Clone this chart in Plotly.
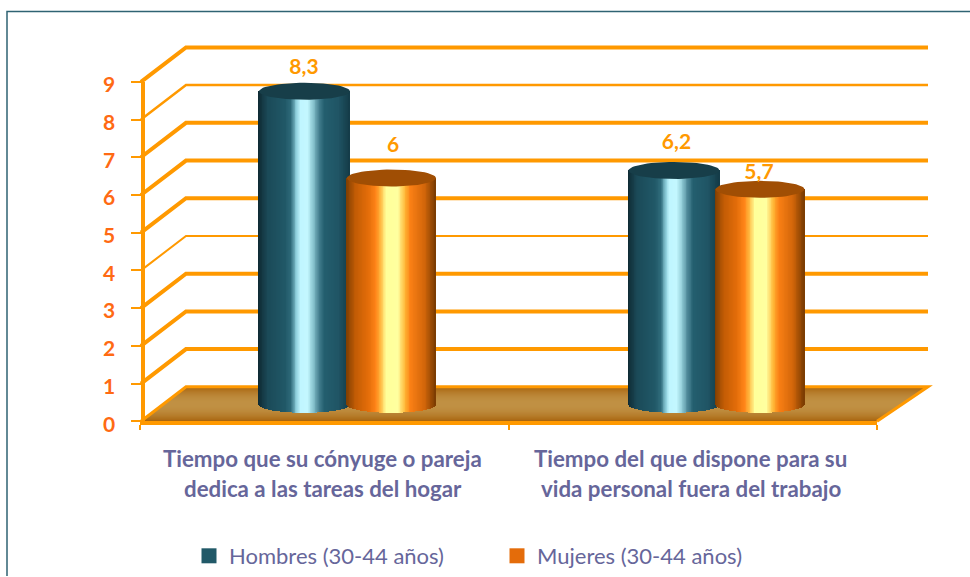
import numpy as np
import plotly.graph_objects as go

# ---- data ----
categories_l1 = ["Tiempo que su cónyuge o pareja", "Tiempo del que dispone para su"]
categories_l2 = ["dedica a las tareas del hogar", "vida personal fuera del trabajo"]
hombres = [8.3, 6.2]
mujeres = [6, 5.7]
y_ticks = [0, 1, 2, 3, 4, 5, 6, 7, 8, 9]
series_names = ["Hombres (30-44 años)", "Mujeres (30-44 años)"]

# ---- page geometry ----
W, H = 970, 577
XC0, XU = 324.5, 368.0     # px of category 0, px per category
Y0, YU = 422.0, 37.78      # px of value 0, px per value unit
ORANGE = "#FF9900"
TICKCOL = "#FF6A13"
TXT = "#66669A"

def xd(px): return (px - XC0) / XU
def yd(px): return (Y0 - px) / YU

DEPTH_X = 45 / XU          # back wall offset
DEPTH_Y = 34.5 / YU
BAR_DEPTH = 17 / YU        # cylinder axis sits halfway into the floor
RY = 8.5 / YU
SLICES = 110

TEAL_STOPS = [(0, "#0f2a33"), (.10, "#1b4a58"), (.30, "#215968"), (.36, "#2f6b7b"), (.42, "#8fd0dd"),
              (.46, "#c0f6ff"), (.54, "#c4f8ff"), (.60, "#8cc7d2"), (.66, "#4d8797"), (.72, "#245f6f"),
              (.88, "#205565"), (1, "#143c48")]
ORANGE_STOPS = [(0, "#7e3e02"), (.10, "#c25c05"), (.25, "#e56e0a"), (.33, "#ff8418"), (.38, "#ffb23a"),
                (.45, "#ffff9a"), (.58, "#ffffa0"), (.66, "#ffb535"), (.72, "#fb8015"),
                (.88, "#d2660a"), (1, "#7a3c02")]

def hex2rgb(h): return np.array([int(h[i:i + 2], 16) for i in (1, 3, 5)], float)

def ramp(stops, t):
    ts = [s[0] for s in stops]
    cs = np.array([hex2rgb(s[1]) for s in stops])
    return "rgb(%d,%d,%d)" % tuple(np.interp(t, ts, cs[:, i]) for i in range(3))

def cylinder(vals, off_px, w_px, stops, top_col):
    """vertical slices (bars) + elliptical top, one per value."""
    xs, ys, bases, cols = [], [], [], []
    w = w_px / XU
    exs, eys = [], []
    for i, v in enumerate(vals):
        c = i + off_px[i] / XU
        for k in range(SLICES):
            t = (k + .5) / SLICES
            s = 2 * t - 1
            b = BAR_DEPTH - RY * np.sqrt(1 - s * s)
            xs.append(c + s * w / 2)
            bases.append(b)
            ys.append(v + BAR_DEPTH - b)
            cols.append(ramp(stops, t))
        a = np.linspace(0, 2 * np.pi, 61)
        exs += list(c + np.cos(a) * w / 2) + [None]
        eys += list(v + BAR_DEPTH + np.sin(a) * RY) + [None]
    body = go.Bar(x=xs, y=ys, base=bases, width=1.6 * w / SLICES, marker=dict(color=cols, line=dict(width=0)),
                  showlegend=False, hoverinfo="skip")
    top = go.Scatter(x=exs, y=eys, mode="lines", fill="toself", fillcolor=top_col,
                     line=dict(width=0, color=top_col), showlegend=False, hoverinfo="skip")
    return body, top

fig = go.Figure()
b1, t1 = cylinder(hombres, [-20, -18.5], 91, TEAL_STOPS, "#173e49")
b2, t2 = cylinder(mujeres, [67, 67.5], 89, ORANGE_STOPS, "#a04e04")
for tr in (b1, t1, b2, t2):
    fig.add_trace(tr)

# data labels
label_lift = [[22.5, 26.5], [31.5, 15.5]]
lx, ly, lt = [], [], []
for vals, lifts, off in ((hombres, label_lift[0], [-20.5, -16]), (mujeres, label_lift[1], [68.5, 66.5])):
    for i, v in enumerate(vals):
        lx.append(i + off[i] / XU)
        ly.append(v + BAR_DEPTH + lifts[i] / YU)
        lt.append(str(v).replace(".", ","))
fig.add_trace(go.Scatter(x=lx, y=ly, text=lt, mode="text", textposition="middle center",
                         textfont=dict(family="Lato", size=21, color=ORANGE, weight="bold"),
                         showlegend=False, hoverinfo="skip"))

# legend entries
for name, col in zip(series_names, ("#215968", "#E46C0A")):
    fig.add_trace(go.Scatter(x=[None], y=[None], mode="markers", name=name,
                             marker=dict(symbol="square", size=15, color=col)))

# axis host trace
fig.add_trace(go.Scatter(x=[0, 1], y=[0, 9], xaxis="x2", yaxis="y2", mode="markers",
                         marker=dict(opacity=0), showlegend=False, hoverinfo="skip"))

# ---- walls and floor ----
shapes = []
xL, xR, xB = xd(141), xd(928), xd(877)
xBL = xL + DEPTH_X
FLOOR_N = 34
c_edge, c_mid = hex2rgb("#A9640E"), hex2rgb("#C19144")
def pt(f, right):
    x = (xL + DEPTH_X * f) if not right else (xB + (xR - xB) * f)
    return f"{x},{DEPTH_Y * f}"
for k in range(FLOOR_N):
    f0 = k / FLOOR_N
    m = abs((k + .5) / FLOOR_N - .5) * 2
    c = c_mid + (c_edge - c_mid) * m ** 2
    shapes.append(dict(type="path", xref="x", yref="y", layer="below", line=dict(width=0),
                       fillcolor="rgb(%d,%d,%d)" % tuple(c),
                       path=f"M{pt(f0, 0)} L{pt(1, 0)} L{pt(1, 1)} L{pt(f0, 1)} Z"))
thin = {4: 2, 8: 2.5}
for v in y_ticks[1:]:
    w = thin.get(v, 4)
    shapes.append(dict(type="path", xref="x", yref="y", layer="below", line=dict(color=ORANGE, width=w),
                       path=f"M{xL},{v} L{xBL},{v + DEPTH_Y} L{xR},{v + DEPTH_Y}"))
# floor edges
shapes.append(dict(type="path", xref="x", yref="y", layer="below", line=dict(color=ORANGE, width=3),
                   path=f"M{xL},0 L{xBL},{DEPTH_Y} L{xR},{DEPTH_Y} L{xB},0"))
# outer frame
shapes.append(dict(type="path", xref="paper", yref="paper", line=dict(color="#2F6373", width=1.5),
                   path=f"M{7 / W},0 L{7 / W},{1 - 11.5 / H} L1,{1 - 11.5 / H}"))

# category labels
annotations = []
for i, (a, b) in enumerate(zip(categories_l1, categories_l2)):
    for txt, py in ((a, 459), (b, 489)):
        annotations.append(dict(x=i - 2 / XU, xref="x", y=1 - py / H, yref="paper", text=txt, showarrow=False,
                                xanchor="center", yanchor="middle",
                                font=dict(family="Lato", size=22.3, color=TXT, weight="bold")))

fig.update_layout(
    width=W, height=H, margin=dict(l=0, r=0, t=0, b=0), autosize=False,
    paper_bgcolor="white", plot_bgcolor="rgba(0,0,0,0)", barmode="overlay", bargap=0,
    shapes=shapes, annotations=annotations,
    xaxis=dict(visible=False, range=[xd(0), xd(W)], domain=[0, 1], fixedrange=True, automargin=False),
    yaxis=dict(visible=False, range=[yd(H), yd(0)], domain=[0, 1], fixedrange=True, automargin=False),
    xaxis2=dict(domain=[140 / W, 877 / W], range=[-.5, 1.5], anchor="y2", showgrid=False, zeroline=False,
                automargin=False,
                showline=True, linecolor=ORANGE, linewidth=4, tickvals=[], ticks="", showticklabels=False,
                minor=dict(tickvals=[-.5, .5, 1.5], ticks="outside", ticklen=5, tickwidth=2, tickcolor=ORANGE)),
    yaxis2=dict(domain=[1 - Y0 / H, 1 - 82 / H], range=[0, 9], anchor="free", position=142.5 / W, showgrid=False,
                automargin=False,
                zeroline=False, showline=True, linecolor=ORANGE, linewidth=4, tickvals=y_ticks, ticks="outside",
                ticklen=10, tickwidth=2, tickcolor=ORANGE, ticklabelstandoff=11, ticklabelshift=3,
                tickfont=dict(family="Lato", size=21, color=TICKCOL, weight="bold")),
    legend=dict(orientation="h", x=189 / W, y=1 - 557 / H,
                xanchor="left", yanchor="middle",
                entrywidth=263, entrywidthmode="pixels", itemsizing="trace", bgcolor="rgba(0,0,0,0)",
                font=dict(family="Lato", size=22, color=TXT)),
    showlegend=True,
)
fig.write_html("out.html", config=dict(displayModeBar=False),
               post_script="document.body.style.margin='0';")
